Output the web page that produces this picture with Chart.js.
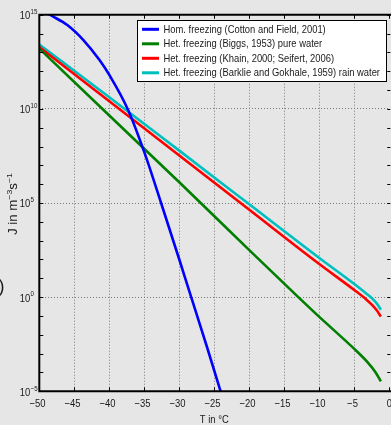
<!DOCTYPE html>
<html><head><meta charset="utf-8">
<script src="https://cdn.jsdelivr.net/npm/chart.js@4.4.1/dist/chart.umd.min.js"></script>
<style>html,body{margin:0;padding:0;background:#e6e6e6;overflow:hidden}</style>
</head><body>
<canvas id="c" width="391" height="425"></canvas>
<script>
// ---- data ----
const seriesLabels = [
  'Hom. freezing (Cotton and Field, 2001)',
  'Het. freezing (Biggs, 1953) pure water',
  'Het. freezing (Khain, 2000; Seifert, 2006)',
  'Het. freezing (Barklie and Gokhale, 1959) rain water'
];
const seriesColors = ['#0000ff', '#007f00', '#ff0000', '#00bfbf'];

// temperatures in degC and log10 of J (m^-3 s^-1)
const homT      = [-50, -48.5, -46, -43.7, -41.4, -40, -37.3, -35, -32.6, -30, -28.3, -26, -24.1, -23.9];
const homLogJ   = [15.35, 15.0, 14.45, 13.65, 12.59, 11.8, 9.93, 7.7, 5.0, 2.0, 0.0, -2.7, -5.0, -5.25];

const biggsT    = [-50, -40, -30, -20, -13, -10, -5, -3, -2, -1.2];
const biggsLogJ = [13.2, 9.65, 6.1, 2.5, 0.0, -1.05, -2.75, -3.5, -3.97, -4.47];

const khainT    = [-50, -40, -30, -20, -10, -5, -3.3, -2.5, -1.8, -1.2];
const khainLogJ = [13.28, 10.4, 7.52, 4.64, 1.76, 0.38, -0.12, -0.4, -0.7, -1.03];

const barklieT    = [-50, -40, -30, -20, -10, -5, -3.3, -2.5, -1.8, -1.2];
const barklieLogJ = [13.42, 10.62, 7.78, 4.93, 2.08, 0.7, 0.2, -0.05, -0.33, -0.67];

// axis ticks
const xTicks = [-50, -45, -40, -35, -30, -25, -20, -15, -10, -5, 0];
const yDecadeExps = [-5,-4,-3,-2,-1,0,1,2,3,4,5,6,7,8,9,10,11,12,13,14,15];
const yLabelExps = [-5, 0, 5, 10, 15];
const xTitle = 'T in \u00b0C';

// ---- build ----
const toPts = (T, L) => T.map((t, i) => ({x: t, y: Math.pow(10, L[i])}));
const seriesT = [homT, biggsT, khainT, barklieT];
const seriesL = [homLogJ, biggsLogJ, khainLogJ, barklieLogJ];

const FONT = "'Liberation Sans',Arial,sans-serif";
const SX = 0.82; // condensed look of the original figure text
const fmtMinus = v => String(v).replace('-', '\u2212');

function txt(c, s, x, y, size, align, baseline, sx) {
  c.save();
  c.font = size + 'px ' + FONT;
  c.textAlign = align; c.textBaseline = baseline;
  c.translate(x, y);
  c.scale(sx, 1);
  c.fillText(s, 0, 0);
  c.restore();
}

const decor = {
  id: 'decor',
  beforeDraw(chart) {
    const c = chart.ctx;
    c.save();
    c.fillStyle = '#e6e6e6';
    c.fillRect(0, 0, chart.width, chart.height);
    c.restore();
  },
  afterDatasetsDraw(chart) {
    const c = chart.ctx;
    const a = chart.chartArea;
    const xs = chart.scales.x, ys = chart.scales.y;
    c.save();
    // axes box lines
    c.strokeStyle = '#000';
    c.lineWidth = 2;
    c.beginPath();
    c.moveTo(a.left, a.top); c.lineTo(a.right + 2, a.top);
    c.moveTo(a.left, a.top - 1); c.lineTo(a.left, a.bottom + 1);
    c.moveTo(a.left - 1, a.bottom); c.lineTo(a.right + 2, a.bottom);
    c.stroke();
    // inward ticks
    c.lineWidth = 1;
    c.beginPath();
    xTicks.forEach(v => {
      const px = Math.round(xs.getPixelForValue(v)) + 0.5;
      c.moveTo(px, a.bottom); c.lineTo(px, a.bottom - 4);
      c.moveTo(px, a.top); c.lineTo(px, a.top + 4);
    });
    yDecadeExps.forEach(e => {
      const py = Math.round(ys.getPixelForValue(Math.pow(10, e))) + 0.5;
      c.moveTo(a.left, py); c.lineTo(a.left + 4, py);
      c.moveTo(a.right + 1, py); c.lineTo(a.right - 2, py);
    });
    c.stroke();

    // y tick labels 10^e
    c.fillStyle = '#1a1a1a';
    yLabelExps.forEach(e => {
      const py = ys.getPixelForValue(Math.pow(10, e));
      txt(c, '10', 30.3, py + 1.2, 11.5, 'right', 'middle', SX);
      txt(c, fmtMinus(e), 30.6, py - 0.8, 7.5, 'left', 'alphabetic', SX);
    });
    // x tick labels
    xTicks.forEach(v => {
      const px = xs.getPixelForValue(v);
      txt(c, fmtMinus(v), v < 0 ? px - 1.8 : px, 403.5, 11.5, 'center', 'middle', SX);
    });
    // x title
    txt(c, xTitle, (a.left + a.right) / 2, 420, 11.5, 'center', 'middle', SX);

    // y title: J in m^-3 s^-1 (rotated), about 62 px long
    c.save();
    c.translate(16.8, 204);
    c.rotate(-Math.PI / 2);
    const parts = [['J in m', 12, 0], ['\u22123', 8, -5], ['s', 12, 0], ['\u22121', 8, -5]];
    let tw = 0;
    parts.forEach(p => { c.font = p[1] + 'px ' + FONT; tw += c.measureText(p[0]).width; });
    const stretch = 62 / tw;
    c.scale(stretch, 1);
    let x0 = -tw / 2;
    c.textAlign = 'left'; c.textBaseline = 'alphabetic';
    parts.forEach(p => {
      c.font = p[1] + 'px ' + FONT;
      c.fillText(p[0], x0, p[2]);
      x0 += c.measureText(p[0]).width;
    });
    c.restore();

    // stray parenthesis at left edge (from original figure crop)
    c.font = '18px ' + FONT;
    c.textAlign = 'left'; c.textBaseline = 'middle';
    c.fillText(')', -1.5, 287);

    // legend
    const lx = 137.5, ly = 20.5, lw = 249, lh = 61;
    c.fillStyle = '#ffffff';
    c.fillRect(lx, ly, lw, lh);
    c.strokeStyle = '#000'; c.lineWidth = 1;
    c.strokeRect(lx, ly, lw, lh);
    c.font = '11.5px ' + FONT;
    let maxW = 0;
    chart.data.datasets.forEach(ds => { maxW = Math.max(maxW, c.measureText(ds.label).width); });
    const lsx = 216.5 / maxW;
    chart.data.datasets.forEach((ds, i) => {
      const ry = 29.3 + i * 14.5;
      c.strokeStyle = ds.borderColor; c.lineWidth = 3;
      c.beginPath(); c.moveTo(142, ry); c.lineTo(159, ry); c.stroke();
      c.fillStyle = '#1a1a1a';
      txt(c, ds.label, 163.5, ry + 0.5, 11.5, 'left', 'middle', lsx);
    });
    c.restore();
  }
};

const gridColor = '#7a7a7a';
new Chart(document.getElementById('c'), {
  type: 'line',
  data: {
    datasets: seriesLabels.map((lab, i) => ({
      label: lab,
      data: toPts(seriesT[i], seriesL[i]),
      borderColor: seriesColors[i],
      backgroundColor: seriesColors[i],
      borderWidth: 2.6,
      pointRadius: 0,
      cubicInterpolationMode: 'monotone',
      fill: false,
      clip: 0
    }))
  },
  options: {
    responsive: false,
    animation: false,
    devicePixelRatio: 1,
    layout: {padding: {left: 39.3, right: 1.7, top: 14.7, bottom: 33.7}},
    plugins: {legend: {display: false}, tooltip: {enabled: false}},
    scales: {
      x: {
        type: 'linear', min: -50, max: 0,
        afterBuildTicks: s => { s.ticks = xTicks.map(v => ({value: v})); },
        ticks: {display: false},
        grid: {drawTicks: false, lineWidth: 1,
          color: ctx => (ctx.tick && (ctx.tick.value === -50 || ctx.tick.value === 0)) ? 'rgba(0,0,0,0)' : gridColor},
        border: {display: false, dash: [1, 2]}
      },
      y: {
        type: 'logarithmic', min: 1e-5, max: 1e15,
        afterBuildTicks: s => { s.ticks = yDecadeExps.map(e => ({value: Math.pow(10, e)})); },
        ticks: {display: false},
        grid: {drawTicks: false, lineWidth: 1,
          color: ctx => {
            if (!ctx.tick) return 'rgba(0,0,0,0)';
            const e = Math.round(Math.log10(ctx.tick.value));
            return (e % 5 === 0 && e !== -5 && e !== 15) ? gridColor : 'rgba(0,0,0,0)';
          }},
        border: {display: false, dash: [1, 2]}
      }
    }
  },
  plugins: [decor]
});
</script>
</body></html>
